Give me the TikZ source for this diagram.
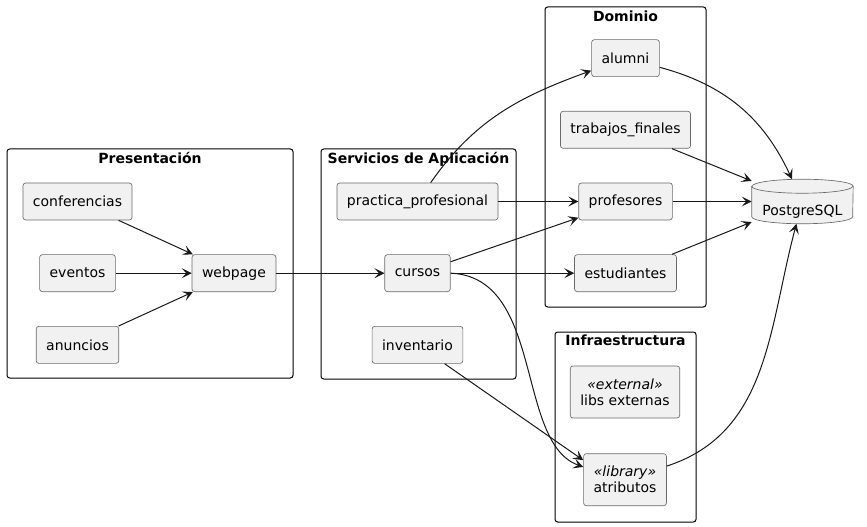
\documentclass[tikz,border=0pt]{standalone}
\usepackage{fontspec}
\setmainfont{DejaVu Sans}
\usepackage{xcolor}
\usepackage{tikz}
\usetikzlibrary{shapes,arrows.meta,positioning}

\definecolor{compfill}{HTML}{F1F1F1}
\definecolor{compline}{HTML}{181818}
\definecolor{compborder}{HTML}{6A6A6A}

\begin{document}
\begin{tikzpicture}[x=0.75pt, y=-0.75pt, font=\fontsize{10.5pt}{12pt}\selectfont]
    \tikzstyle{layer} = [rectangle, draw=black, line width=0.75pt, rounded corners=2pt, inner sep=0pt]
    \tikzstyle{title} = [font=\fontsize{10.5pt}{12pt}\selectfont\bfseries, anchor=base, inner sep=0pt]
    \tikzstyle{comp} = [rectangle, draw=compborder, line width=0.5pt, fill=compfill, rounded corners=2pt, text centered, minimum height=27.75pt, inner xsep=7.5pt]
    \tikzstyle{lib} = [comp, align=center, minimum height=39pt]
    \tikzstyle{dbbox} = [rectangle, minimum width=75.75pt, minimum height=33pt, inner sep=0pt]
    \tikzstyle{dbshape} = [draw=compborder, line width=0.5pt, fill=compfill]
    \tikzstyle{arrow} = [draw=compline, line width=0.75pt, ->, >={Stealth[length=7.5pt, width=7.5pt, inset=3.4pt]}]

    \useasboundingbox (0,0) rectangle (867,527);

    % Layers
    \node [layer, minimum width=214.5pt, minimum height=171.75pt] (presentacion) at (150,263.5) {};
    \node [layer, minimum width=146.25pt, minimum height=172.5pt] (servicios) at (418.5,264) {};
    \node [layer, minimum width=120.75pt, minimum height=225pt] (dominio) at (625.5,157) {};
    \node [layer, minimum width=105.75pt, minimum height=142.5pt] (infraestructura) at (625.5,427) {};
    \node [title] (t_presentacion) at ([yshift=-11.25pt]presentacion.north) {Presentación};
    \node [title] (t_servicios) at ([yshift=-11.25pt]servicios.north) {Servicios de Aplicación};
    \node [title] (t_dominio) at ([yshift=-11.25pt]dominio.north) {Dominio};
    \node [title] (t_infraestructura) at ([yshift=-10.5pt]infraestructura.north) {Infraestructura};

    % Presentacion
    \node [comp] (conferencias) at (77.5,201.5) {conferencias};
    \node [comp, below=25.5pt of conferencias] (eventos) {eventos};
    \node [comp, below=25.5pt of eventos] (anuncios) {anuncios};
    \node [comp, right=57pt of eventos] (webpage) {webpage};

    % Servicios de aplicacion
    \node [comp] (practica) at (417.5,201.5) {practica\_profesional};
    \node [comp, below=25.5pt of practica] (cursos) {cursos};
    \node [comp, below=25.5pt of cursos] (inventario) {inventario};

    % Dominio
    \node [comp] (profesores) at (625.5,201.5) {profesores};
    \node [comp, above=25.5pt of profesores] (trabajos) {trabajos\_finales};
    \node [comp, above=25.5pt of trabajos] (alumni) {alumni};
    \node [comp, below=25.5pt of profesores] (estudiantes) {estudiantes};

    % Infraestructura
    \node [lib] (libs) at (625,392) {\textit{«external»}\\libs externas};
    \node [lib, below=26.25pt of libs] (atributos) {\textit{«library»}\\atributos};

    % Database
    \node [dbbox, right=59.25pt of profesores] (db) {};
    \draw [dbshape] ([yshift=-5.25pt]db.north west) -- ([yshift=5.25pt]db.south west)
        arc [start angle=180, end angle=360, x radius=37.875pt, y radius=5.25pt]
        -- ([yshift=-5.25pt]db.north east)
        arc [start angle=0, end angle=180, x radius=37.875pt, y radius=5.25pt] -- cycle;
    \draw [dbshape, fill=none] ([yshift=-5.25pt]db.north west)
        arc [start angle=180, end angle=360, x radius=37.875pt, y radius=5.25pt];
    \node [inner sep=0pt] (dbtext) at ([yshift=-7.5pt]db.center) {PostgreSQL};

    % Arrows
    \draw [arrow] (conferencias) -- (webpage);
    \draw [arrow] (eventos) -- (webpage);
    \draw [arrow] (anuncios) -- (webpage);
    \draw [arrow] (webpage) -- (cursos);
    \draw [arrow] (practica) to[out=55, in=200] (alumni);
    \draw [arrow] (practica) -- (profesores);
    \draw [arrow] (cursos) -- (profesores);
    \draw [arrow] (cursos) -- (estudiantes);
    \draw [arrow] (cursos.east) .. controls +(94,4) and +(-68,-24) .. (atributos.163);
    \draw [arrow] (inventario) -- (atributos.155);
    \draw [arrow] (alumni) to[out=-15, in=115] (db);
    \draw [arrow] (trabajos) -- (db);
    \draw [arrow] (profesores) -- (db);
    \draw [arrow] (estudiantes) -- (db);
    \draw [arrow] (atributos) to[out=18, in=255] (db);
\end{tikzpicture}
\end{document}
